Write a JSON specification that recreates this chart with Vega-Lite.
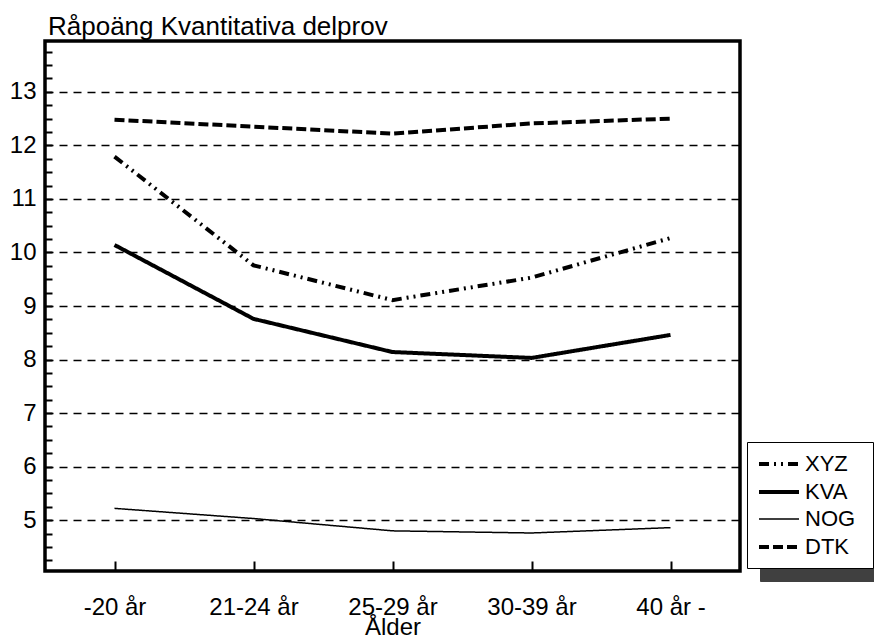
{
  "$schema": "https://vega.github.io/schema/vega-lite/v6.json",
  "width": 695,
  "height": 530,
  "autosize": {"type": "none"},
  "padding": {"left": 45, "top": 41, "right": 134, "bottom": 69},
  "background": "white",
  "title": {"text": "Råpoäng Kvantitativa delprov", "anchor": "start", "frame": "group", "font": "Liberation Sans", "fontSize": 26, "fontWeight": "normal", "color": "black", "offset": 1, "dx": 3},
  "config": {"view": {"stroke": "black", "strokeWidth": 3.5}, "font": "Liberation Sans"},
  "data": {"values": [
    {"series": "XYZ", "age": "-20 år", "score": 11.79},
    {"series": "XYZ", "age": "21-24 år", "score": 9.76},
    {"series": "XYZ", "age": "25-29 år", "score": 9.11},
    {"series": "XYZ", "age": "30-39 år", "score": 9.53},
    {"series": "XYZ", "age": "40 år -", "score": 10.27},
    {"series": "KVA", "age": "-20 år", "score": 10.14},
    {"series": "KVA", "age": "21-24 år", "score": 8.76},
    {"series": "KVA", "age": "25-29 år", "score": 8.14},
    {"series": "KVA", "age": "30-39 år", "score": 8.03},
    {"series": "KVA", "age": "40 år -", "score": 8.46},
    {"series": "NOG", "age": "-20 år", "score": 5.22},
    {"series": "NOG", "age": "21-24 år", "score": 5.03},
    {"series": "NOG", "age": "25-29 år", "score": 4.8},
    {"series": "NOG", "age": "30-39 år", "score": 4.76},
    {"series": "NOG", "age": "40 år -", "score": 4.86},
    {"series": "DTK", "age": "-20 år", "score": 12.48},
    {"series": "DTK", "age": "21-24 år", "score": 12.35},
    {"series": "DTK", "age": "25-29 år", "score": 12.22},
    {"series": "DTK", "age": "30-39 år", "score": 12.41},
    {"series": "DTK", "age": "40 år -", "score": 12.5}
  ]},
  "mark": {"type": "line", "color": "black"},
  "encoding": {
    "x": {
      "field": "age", "type": "ordinal",
      "sort": ["-20 år", "21-24 år", "25-29 år", "30-39 år", "40 år -"],
      "scale": {"type": "point", "padding": 0.5},
      "axis": {"offset": -10, "domain": false, "labelAngle": 0, "tickSize": 10, "tickWidth": 2, "tickColor": "black", "labelFontSize": 24, "labelColor": "black", "labelFont": "Liberation Sans", "labelPadding": 24, "title": "Ålder", "titleFontSize": 24, "titleFontWeight": "normal", "titleColor": "black", "titleFont": "Liberation Sans", "titlePadding": -4, "grid": false}
    },
    "y": {
      "field": "score", "type": "quantitative",
      "scale": {"domain": [4.05, 13.95], "nice": false, "zero": false},
      "axis": {
        "values": [4.25, 4.5, 4.75, 5, 5.25, 5.5, 5.75, 6, 6.25, 6.5, 6.75, 7, 7.25, 7.5, 7.75, 8, 8.25, 8.5, 8.75, 9, 9.25, 9.5, 9.75, 10, 10.25, 10.5, 10.75, 11, 11.25, 11.5, 11.75, 12, 12.25, 12.5, 12.75, 13, 13.25, 13.5, 13.75],
        "labelExpr": "datum.value % 1 === 0 ? format(datum.value, 'd') : ''",
        "offset": -7, "domain": false,
        "grid": true, "gridDash": [8, 6], "gridColor": "black", "gridWidth": 1.5,
        "gridOpacity": {"condition": {"test": "datum.value % 1 === 0", "value": 1}, "value": 0},
        "tickSize": 7, "tickWidth": 2, "tickColor": "black",
        "labelFontSize": 24, "labelColor": "black", "labelFont": "Liberation Sans", "labelPadding": 9,
        "title": null
      }
    },
    "strokeDash": {
      "field": "series", "type": "nominal",
      "scale": {"domain": ["XYZ", "KVA", "NOG", "DTK"], "range": [[10, 5, 2, 5, 2, 5], [1, 0], [1, 0], [10, 4]]},
      "legend": {"orient": "none", "legendX": 702, "legendY": 401, "zindex": 2, "title": "\u00a0", "titleOrient": "right", "titlePadding": 8, "titleFontSize": 22, "symbolType": "M-1,0H3", "symbolSize": 400, "symbolStrokeColor": "black", "labelFontSize": 22, "labelColor": "black", "labelFont": "Liberation Sans", "labelOffset": 24, "strokeColor": "black", "fillColor": "white", "padding": 10, "rowPadding": 5}
    },
    "strokeWidth": {
      "field": "series", "type": "nominal",
      "scale": {"type": "ordinal", "domain": ["XYZ", "KVA", "NOG", "DTK"], "range": [4, 4, 1.5, 4]},
      "legend": {"orient": "none", "legendX": 702, "legendY": 401, "zindex": 2, "title": "\u00a0", "titleOrient": "right", "titlePadding": 8, "titleFontSize": 22, "symbolType": "M-1,0H3", "symbolSize": 400, "symbolStrokeColor": "black", "labelFontSize": 22, "labelColor": "black", "labelFont": "Liberation Sans", "labelOffset": 24, "strokeColor": "black", "fillColor": "white", "padding": 10, "rowPadding": 5}
    },
    "opacity": {
      "datum": "skugga", "type": "ordinal",
      "scale": {"range": [1]},
      "legend": {"orient": "none", "legendX": 715, "legendY": 440, "zindex": 1, "title": null, "symbolType": "stroke", "symbolSize": 1600, "symbolOpacity": 0, "labelExpr": "''", "strokeColor": "#404040", "fillColor": "#404040", "padding": 37}
    }
  }
}
